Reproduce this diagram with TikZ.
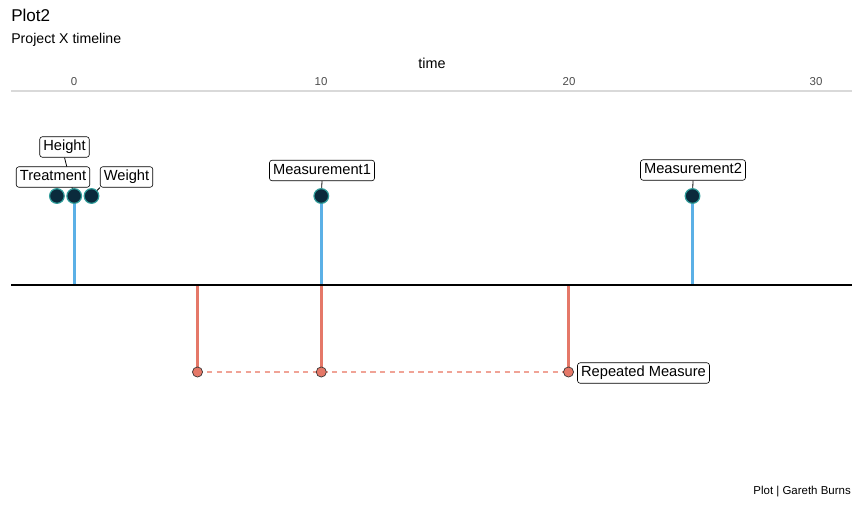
\documentclass[tikz,border=0pt]{standalone}
\usepackage{fontspec}
\setmainfont{Liberation Sans}
\usetikzlibrary{backgrounds}
\definecolor{stemblue}{HTML}{5BB0E6}
\definecolor{stemred}{HTML}{E57868}
\definecolor{dashred}{HTML}{F0A396}
\definecolor{dotfill}{HTML}{0A2A3C}
\definecolor{dotline}{HTML}{2F9C9A}
\definecolor{axisgray}{HTML}{4D4D4D}
\definecolor{gridgray}{HTML}{D9D9D9}
\begin{document}
\begin{tikzpicture}[x=0.75pt,y=-0.75pt,
  lbl/.style={draw=black, line width=0.45pt, rounded corners=2pt, fill=white,
    font=\fontsize{11}{12}\selectfont, inner xsep=2.7pt, inner ysep=0pt,
    minimum height=15.4pt, text height=8pt, text depth=2.2pt},
  bigdot/.style={circle, fill=dotfill, draw=dotline, line width=0.9pt, minimum size=11pt, inner sep=0pt},
  reddot/.style={circle, fill=stemred, draw=black!80, line width=0.5pt, minimum size=7.6pt, inner sep=0pt},
  bluestem/.style={draw=stemblue, line width=2.2pt},
  redstem/.style={draw=stemred, line width=2pt},
  seg/.style={draw=black, line width=0.6pt},
  tick/.style={font=\fontsize{8.6}{10}\selectfont, text=axisgray, anchor=base, inner sep=0pt},
  plain/.style={inner sep=0pt}
]
\useasboundingbox (0,0) rectangle (862,504);

% titles
\node[plain, anchor=base west, font=\fontsize{12.8}{14}\selectfont] (title) at (11,21) {Plot2};
\node[plain, anchor=base west, font=\fontsize{10.6}{12}\selectfont] (subtitle) at (11,43) {Project X timeline};
\node[plain, anchor=base, font=\fontsize{10.8}{12}\selectfont] (axtitle) at (432,68.5) {time};
\node[tick] (t0) at (74,85) {0};
\node[tick] (t10) at (321,85) {10};
\node[tick] (t20) at (569,85) {20};
\node[tick] (t30) at (816,85) {30};
\coordinate (gl) at (11,91);
\coordinate (gr) at (852,91);
\draw[draw=gridgray, line width=0.8pt] (gl) -- (gr);

% baseline
\coordinate (bl) at (11,285);
\coordinate (br) at (852,285);
\coordinate (b0) at (74.2,285);
\coordinate (b5) at (197.5,285);
\coordinate (b10) at (321.3,285);
\coordinate (b20) at (568.5,285);
\coordinate (b25) at (692.5,285);

% dots
\node[bigdot] (dT) at (56.9,196) {};
\node[bigdot] (dH) at (74.2,196) {};
\node[bigdot] (dW) at (91.5,196) {};
\node[bigdot] (dM1) at (321.3,196) {};
\node[bigdot] (dM2) at (692.5,196) {};
\node[reddot] (r5) at (197.5,372) {};
\node[reddot] (r10) at (321.3,372) {};
\node[reddot] (r20) at (568.5,372) {};

% labels
\node[lbl] (lH) at (64.5,147) {Height};
\node[lbl] (lT) at (53,177) {Treatment};
\node[lbl] (lW) at (126.5,177) {Weight};
\node[lbl] (lM1) at (322,170.5) {Measurement1};
\node[lbl] (lM2) at (693,170) {Measurement2};
\node[lbl] (lR) at (643.5,373) {Repeated Measure};

\begin{pgfonlayer}{background}
  \draw[bluestem] (b0) -- (dH.center);
  \draw[bluestem] (b10) -- (dM1.center);
  \draw[bluestem] (b25) -- (dM2.center);
  \draw[redstem] (b5) -- (r5.center);
  \draw[redstem] (b10) -- (r10.center);
  \draw[redstem] (b20) -- (r20.center);
  \draw[draw=dashred, line width=0.9pt, dash pattern=on 4pt off 3.2pt] (r5.center) -- (r20.center);
  \draw[draw=black, line width=0.9pt] (bl) -- (br);
  \draw[seg] (lH.south) -- (dH.center);
  \draw[seg] (lW.south west) -- (dW.center);
  \draw[seg] (lM1.south) -- (dM1.center);
  \draw[seg] (lM2.south) -- (dM2.center);
\end{pgfonlayer}

% caption
\node[plain, anchor=base east, font=\fontsize{8.6}{10}\selectfont] (caption) at (851,494) {Plot | Gareth Burns};
\end{tikzpicture}
\end{document}
